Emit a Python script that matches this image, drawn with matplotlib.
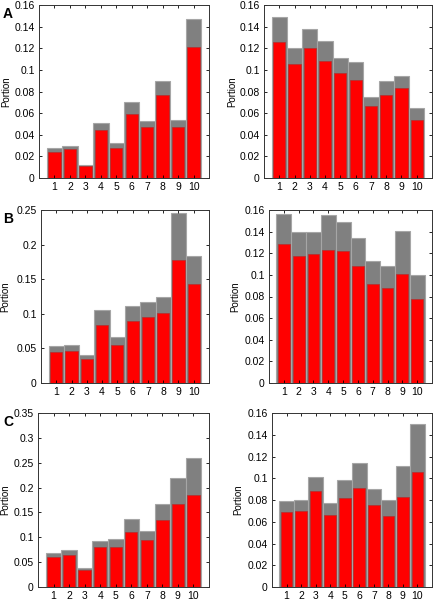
import numpy as np
import matplotlib
matplotlib.use('Agg')
import matplotlib.pyplot as plt
from matplotlib.ticker import FuncFormatter

plt.rcParams['font.family'] = ['Liberation Sans', 'DejaVu Sans']

groups = np.arange(1, 11)

# panel A
a_left_gray = [0.028, 0.030, 0.012, 0.051, 0.032, 0.070, 0.053, 0.090, 0.054, 0.147]
a_left_red = [0.024, 0.027, 0.011, 0.044, 0.028, 0.059, 0.047, 0.077, 0.047, 0.121]
a_right_gray = [0.149, 0.120, 0.138, 0.127, 0.111, 0.107, 0.075, 0.090, 0.094, 0.065]
a_right_red = [0.126, 0.105, 0.120, 0.108, 0.097, 0.091, 0.067, 0.077, 0.083, 0.054]

# panel B
b_left_gray = [0.054, 0.055, 0.040, 0.105, 0.067, 0.111, 0.117, 0.124, 0.246, 0.183]
b_left_red = [0.045, 0.046, 0.035, 0.084, 0.055, 0.089, 0.096, 0.101, 0.178, 0.143]
b_right_gray = [0.156, 0.140, 0.140, 0.155, 0.149, 0.134, 0.113, 0.108, 0.141, 0.100]
b_right_red = [0.129, 0.117, 0.119, 0.123, 0.122, 0.108, 0.092, 0.088, 0.101, 0.078]

# panel C
c_left_gray = [0.069, 0.074, 0.039, 0.093, 0.096, 0.137, 0.113, 0.167, 0.220, 0.260]
c_left_red = [0.060, 0.064, 0.035, 0.080, 0.080, 0.110, 0.095, 0.134, 0.166, 0.185]
c_right_gray = [0.079, 0.080, 0.101, 0.077, 0.098, 0.114, 0.090, 0.080, 0.111, 0.150]
c_right_red = [0.069, 0.070, 0.088, 0.066, 0.082, 0.091, 0.075, 0.065, 0.083, 0.106]

W, H = 440, 600

# (gray, red, ymax, ystep, axes box in px: left, top, right, bottom, label right edge px, letter)
panels = [
    (a_left_gray, a_left_red, 0.16, 0.02, (39, 5, 209, 178), 11, 'A'),
    (a_right_gray, a_right_red, 0.16, 0.02, (264, 5, 432, 178), 237, None),
    (b_left_gray, b_left_red, 0.25, 0.05, (41, 210, 209, 383), 10, 'B'),
    (b_right_gray, b_right_red, 0.16, 0.02, (269, 210, 432, 383), 240, None),
    (c_left_gray, c_left_red, 0.35, 0.05, (38, 413, 209, 587), 10, 'C'),
    (c_right_gray, c_right_red, 0.16, 0.02, (272, 413, 432, 587), 243, None),
]

fig = plt.figure(figsize=(4.4, 6), dpi=100)

fmt = FuncFormatter(lambda v, p: '%g' % round(v, 4))

for gray, red, ymax, ystep, box, labx, letter in panels:
    l, t, r, b = box
    ax = fig.add_axes([l / W, 1 - b / H, (r - l) / W, (b - t) / H])
    ax.bar(groups, gray, width=1.0, color='#808080', edgecolor='#a6a6a6', linewidth=0.8)
    ax.bar(groups, red, width=0.8, color='#ff0000', edgecolor='#b03030', linewidth=0.5)
    ax.set_xlim(0, 11)
    ax.set_ylim(0, ymax)
    ax.set_xticks(groups)
    ax.set_yticks(np.arange(0, ymax + ystep / 2, ystep))
    ax.yaxis.set_major_formatter(fmt)
    ax.tick_params(direction='in', length=2.5, width=0.6, labelsize=7.5, pad=3,
                   top=True, right=True)
    for s in ax.spines.values():
        s.set_linewidth(0.7)
        s.set_color('#333333')
    ax.set_ylabel('Portion', fontsize=7)
    ax.yaxis.set_label_coords((labx - l) / (r - l), 0.5)
    if letter:
        fig.text(3 / W, 1 - (t + 2) / H, letter, fontsize=10, fontweight='bold',
                 va='top', ha='left')

fig.savefig('out.png', dpi=100)
